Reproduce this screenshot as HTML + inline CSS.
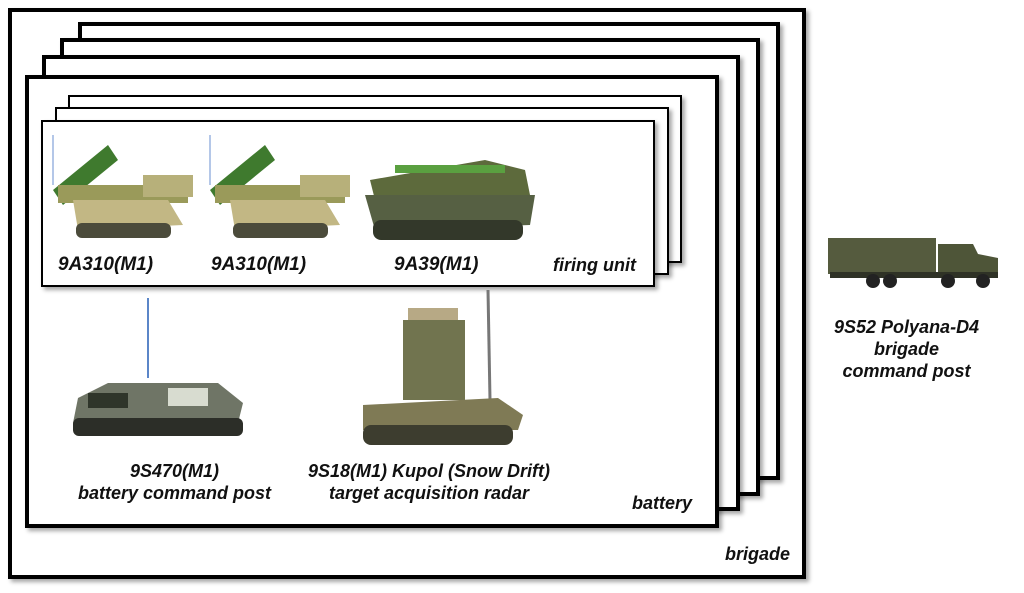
<!DOCTYPE html>
<html><head><style>
body{margin:0;width:1024px;height:593px;background:#fff;position:relative;overflow:hidden;font-family:"Liberation Sans",sans-serif}
.f{position:absolute;border:3px solid #000;background:#fff;box-shadow:3px 3px 4px rgba(0,0,0,.35);box-sizing:border-box}
.t{position:absolute;font-style:italic;font-weight:bold;font-size:17px;color:#111;text-align:center;line-height:22px;white-space:nowrap}
svg{position:absolute}
</style></head><body>
<div class="f" style="left:8px;top:8px;width:798px;height:571px;border-width:4px"></div>
<div class="f" style="left:78px;top:22px;width:702px;height:458px;border-width:4px"></div>
<div class="f" style="left:60px;top:38px;width:700px;height:458px;border-width:4px"></div>
<div class="f" style="left:42px;top:55px;width:698px;height:456px;border-width:4px"></div>
<div class="f" style="left:25px;top:75px;width:694px;height:453px;border-width:4px"></div>
<div class="f" style="left:68px;top:95px;width:614px;height:168px;border-width:2px"></div>
<div class="f" style="left:55px;top:107px;width:614px;height:168px;border-width:2px"></div>
<div class="f" style="left:41px;top:120px;width:614px;height:167px;border-width:2px"></div>

<svg style="left:48px;top:135px" width="150" height="110" viewBox="0 0 150 110">
<line x1="5" y1="0" x2="5" y2="50" stroke="#6a8fd0"/>
<polygon points="5,55 60,10 70,25 15,70" fill="#3f7a2e"/>
<rect x="10" y="50" width="130" height="18" fill="#9a9a5a"/>
<rect x="95" y="40" width="50" height="22" fill="#b7b07a"/>
<polygon points="25,65 120,65 135,90 30,95" fill="#c2b784"/>
<rect x="28" y="88" width="95" height="15" rx="6" fill="#4b4b3b"/>
</svg>
<svg style="left:205px;top:135px" width="150" height="110" viewBox="0 0 150 110">
<line x1="5" y1="0" x2="5" y2="50" stroke="#6a8fd0"/>
<polygon points="5,55 60,10 70,25 15,70" fill="#3f7a2e"/>
<rect x="10" y="50" width="130" height="18" fill="#9a9a5a"/>
<rect x="95" y="40" width="50" height="22" fill="#b7b07a"/>
<polygon points="25,65 120,65 135,90 30,95" fill="#c2b784"/>
<rect x="28" y="88" width="95" height="15" rx="6" fill="#4b4b3b"/>
</svg>
<svg style="left:365px;top:140px" width="175" height="105" viewBox="0 0 175 105">
<polygon points="5,40 120,20 160,30 165,55 10,60" fill="#5d6a3c"/>
<rect x="30" y="25" width="110" height="8" fill="#5aa040"/>
<polygon points="0,55 170,55 165,85 10,90" fill="#566043"/>
<rect x="8" y="80" width="150" height="20" rx="8" fill="#33382a"/>
</svg>
<div class="t" style="left:58px;top:254px;font-size:19px">9A310(M1)</div>
<div class="t" style="left:211px;top:254px;font-size:19px">9A310(M1)</div>
<div class="t" style="left:394px;top:254px;font-size:19px">9A39(M1)</div>
<div class="t" style="left:553px;top:254px;font-size:18px">firing unit</div>

<svg style="left:68px;top:298px" width="180" height="150" viewBox="0 0 180 150">
<line x1="80" y1="0" x2="80" y2="80" stroke="#5b86c8" stroke-width="2"/>
<polygon points="10,100 40,85 150,85 175,105 170,125 5,125" fill="#6f7566"/>
<rect x="20" y="95" width="40" height="15" fill="#2f352a"/>
<rect x="100" y="90" width="40" height="18" fill="#d8dcd0"/>
<rect x="5" y="120" width="170" height="18" rx="6" fill="#2c2e28"/>
</svg>
<svg style="left:358px;top:290px" width="170" height="165" viewBox="0 0 170 165">
<line x1="130" y1="0" x2="132" y2="110" stroke="#777" stroke-width="3"/>
<rect x="50" y="18" width="50" height="12" fill="#b7a985"/>
<rect x="45" y="30" width="62" height="80" fill="#71744f"/>
<polygon points="5,115 140,108 165,125 160,140 5,140" fill="#7f7a55"/>
<rect x="5" y="135" width="150" height="20" rx="8" fill="#3d3d2f"/>
</svg>
<div class="t" style="left:78px;top:460px;font-size:18px">9S470(M1)<br>battery command post</div>
<div class="t" style="left:308px;top:460px;font-size:18px">9S18(M1) Kupol (Snow Drift)<br>target acquisition radar</div>
<div class="t" style="left:632px;top:492px;font-size:18px">battery</div>
<div class="t" style="left:725px;top:543px;font-size:18px">brigade</div>

<svg style="left:828px;top:232px" width="172" height="58" viewBox="0 0 172 58">
<rect x="0" y="6" width="108" height="36" fill="#555b3e"/>
<polygon points="110,12 145,12 150,22 170,26 170,44 110,44" fill="#4e5538"/>
<rect x="2" y="40" width="168" height="6" fill="#2f3226"/>
<circle cx="45" cy="49" r="7" fill="#222"/><circle cx="62" cy="49" r="7" fill="#222"/>
<circle cx="120" cy="49" r="7" fill="#222"/><circle cx="155" cy="49" r="7" fill="#222"/>
</svg>
<div class="t" style="left:834px;top:316px;font-size:18px">9S52 Polyana-D4<br>brigade<br>command post</div>
</body></html>
